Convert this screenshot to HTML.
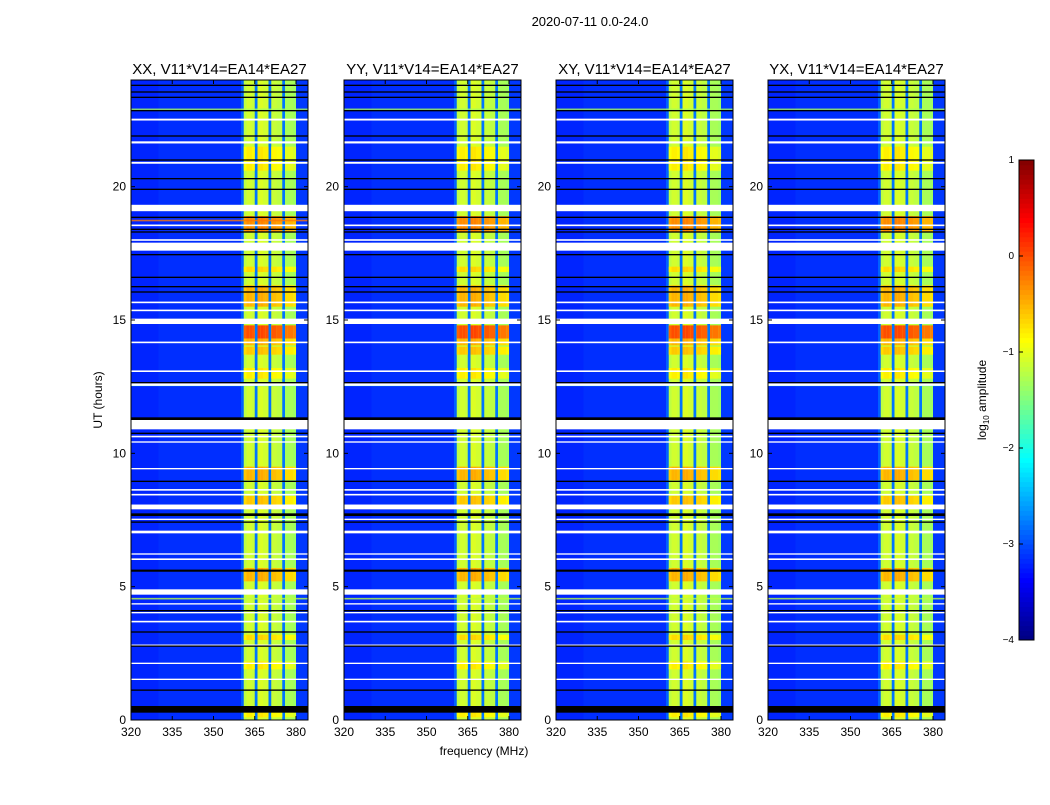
<!DOCTYPE html>
<html><head><meta charset="utf-8"><style>
body{margin:0;background:#fff;}
svg text{font-family:"Liberation Sans",sans-serif;}
</style></head><body>
<svg id="fig" width="1050" height="800" xmlns="http://www.w3.org/2000/svg">
<rect width="1050" height="800" fill="#fff"/>
<text x="590" y="26" font-size="13" text-anchor="middle">2020-07-11 0.0-24.0</text>
<text x="484" y="755" font-size="12" text-anchor="middle">frequency (MHz)</text>
<text x="102" y="400" font-size="12" text-anchor="middle" transform="rotate(-90 102 400)">UT (hours)</text>
<text x="986" y="400" font-size="12" text-anchor="middle" transform="rotate(-90 986 400)">log<tspan font-size="8" dy="3">10</tspan><tspan dy="-3"> amplitude</tspan></text>
</svg>
<script>
const panelTitles = ["XX, V11*V14=EA14*EA27","YY, V11*V14=EA14*EA27","XY, V11*V14=EA14*EA27","YX, V11*V14=EA14*EA27"];
const xTicks = [320,335,350,365,380];
const yTicks = [0,5,10,15,20];
const cbTicks = [1,0,-1,-2,-3,-4];
const cbLabels = ["1","0","\u22121","\u22122","\u22123","\u22124"];
// per-1MHz column levels (log10 amplitude), bins starting at 320
const colLevels = [
-3.2,-3.2,-3.2,-3.2,-3.2,-3.2,-3.2,-3.2,-3.2,-3.2,
-3.15,-3.15,-3.15,-3.15,-3.15,-3.15,-3.15,-3.15,-3.15,-3.15,
-3.15,-3.15,-3.15,-3.15,-3.15,-3.15,-3.15,-3.15,-3.15,-3.15,
-3.15,-3.15,-3.15,-3.15,-3.15,-3.15,-3.15,-3.15,-3.15,-3.15,
-2.9,-1.2,-1.1,-1.1,-1.15,-2.8,-1.05,-1.05,-1.1,-1.1,
-2.8,-1.15,-1.15,-1.2,-1.2,-2.8,-1.3,-1.3,-1.3,-1.35,
-3.1,-3.1,-3.1,-3.1,-3.1];
// [startHour, endHour, boost] applied to band columns
const hotBands = [[14.3,14.8,1.1],[14.05,14.3,0.6],[13.7,14.0,0.5],[15.5,16.3,0.6],[16.8,17.0,0.4],[18.3,18.9,0.8],[20.6,21.5,0.3],[12.8,13.2,0.3],[9.0,9.5,0.6],[8.0,8.4,0.5],[5.2,5.7,0.6],[3.0,3.2,0.4],[1.9,2.2,0.3],[0.1,0.3,0.3]];
// full-width line events [hour, level]
const lineEvents = [[18.73,-0.2],[22.9,-1.3],[4.55,-1.2],[12.55,-2.0]];
// flagged (white) intervals [start,end]
const whiteGaps = [[22.48,22.55],[21.62,21.7],[20.86,20.93],[19.08,19.32],[18.52,18.58],[17.97,18.03],[17.6,17.9],[15.63,15.69],[15.33,15.39],[14.85,15.05],[14.13,14.19],[13.05,13.11],[12.53,12.63],[10.9,11.28],[10.6,10.66],[10.4,10.45],[9.4,9.45],[8.6,8.66],[8.42,8.48],[7.9,8.08],[7.5,7.55],[7.0,7.1],[6.2,6.25],[6.0,6.06],[4.7,4.9],[4.33,4.38],[4.0,4.05],[3.66,3.72],[2.78,2.83],[2.1,2.15],[1.5,1.55]];
// black lines [hour, thicknessHours]
const blackLines = [[23.8,0.05],[23.55,0.05],[23.35,0.05],[22.85,0.05],[21.9,0.05],[21.0,0.05],[20.3,0.05],[19.9,0.05],[18.85,0.05],[18.4,0.05],[18.3,0.05],[17.45,0.05],[16.6,0.05],[16.25,0.05],[16.05,0.05],[12.65,0.05],[11.3,0.1],[10.75,0.05],[8.95,0.05],[7.7,0.1],[7.42,0.05],[5.6,0.08],[4.1,0.05],[3.3,0.05],[2.77,0.05],[1.12,0.05],[0.4,0.25]];

const NS="http://www.w3.org/2000/svg";
const svg=document.getElementById('fig');
const panelX=[131,344,556,768], PW=177, PT=80, PB=720;
const FMIN=320, FMAX=320+PW/2.75;
function jet(v){let t=(v+4)/5;t=Math.max(0,Math.min(1,t));
 const c=x=>Math.round(255*Math.max(0,Math.min(1,1.5-Math.abs(x))));
 return `rgb(${c(4*t-3)},${c(4*t-2)},${c(4*t-1)})`;}
function mk(tag,attrs,parent){const e=document.createElementNS(NS,tag);for(const k in attrs)e.setAttribute(k,attrs[k]);(parent||svg).appendChild(e);return e;}
panelX.forEach((x0,p)=>{
 const xs=f=>x0+(f-FMIN)*2.75, ys=h=>PB-h*(PB-PT)/24;
 const g=mk('g',{});
 
 
 colLevels.forEach((lv,i)=>{
  const f0=FMIN+i, f1=Math.min(FMIN+i+1,FMAX); if(f0>=FMAX)return;
  const r=mk('rect',{x:xs(f0),y:PT,width:xs(f1)-xs(f0)+0.3,height:PB-PT,fill:jet(lv)},g);
  
  
 });
 hotBands.forEach(b=>{
  colLevels.forEach((lv,i)=>{
   if(lv<-2)return;
   const r=mk('rect',{x:xs(FMIN+i),y:ys(b[1]),width:2.8,height:ys(b[0])-ys(b[1]),fill:jet(Math.min(1,lv+b[2]))},g);
   
   
  });
 });
 lineEvents.forEach(l=>{
  if(l[0]>18&&l[0]<19&&p!==0)return;
  const r=mk('rect',{x:x0,y:ys(l[0])-0.8,width:PW,height:1.6,fill:jet(l[1]),opacity:0.8},g);
  
  
 });
 whiteGaps.forEach(w=>{
  const r=mk('rect',{x:x0,y:ys(w[1]),width:PW,height:Math.max(1.2,ys(w[0])-ys(w[1])),fill:'#fff'},g);
  
  
 });
 blackLines.forEach(b=>{
  const r=mk('rect',{x:x0,y:ys(b[0]+b[1]/2),width:PW,height:Math.max(1,b[1]*26.67),fill:'#000'},g);
  
  
 });
 const fr=mk('rect',{x:x0,y:PT,width:PW,height:PB-PT,fill:'none',stroke:'#000','stroke-width':1});
 
 
 const t=mk('text',{x:x0+PW/2,y:74,'font-size':15,'text-anchor':'middle'});
 t.textContent=panelTitles[p];
 
 
 xTicks.forEach(f=>{
  mk('line',{x1:xs(f),x2:xs(f),y1:PB,y2:PB-4,stroke:'#000'});
  mk('line',{x1:xs(f),x2:xs(f),y1:PT,y2:PT+4,stroke:'#000'});
  const tx=mk('text',{x:xs(f),y:PB+16,'font-size':12,'text-anchor':'middle'});
  tx.textContent=f;
  
  
 });
 yTicks.forEach(h=>{
  mk('line',{x1:x0,x2:x0+4,y1:ys(h),y2:ys(h),stroke:'#000'});
  mk('line',{x1:x0+PW,x2:x0+PW-4,y1:ys(h),y2:ys(h),stroke:'#000'});
  const ty=mk('text',{x:x0-5,y:ys(h)+4,'font-size':12,'text-anchor':'end'});
  ty.textContent=h;
  
  
 });
});
// colorbar
const CBX=1019,CBW=15,CBT=160,CBB=640;
const cy=v=>CBB-(v+4)/5*(CBB-CBT);
for(let i=0;i<100;i++){
 const v0=-4+i*0.05;
 const r=mk('rect',{x:CBX,y:cy(v0+0.05),width:CBW,height:(CBB-CBT)/100+0.5,fill:jet(v0+0.025)});
 
 
}
const cbf=mk('rect',{x:CBX,y:CBT,width:CBW,height:CBB-CBT,fill:'none',stroke:'#000'});


cbTicks.forEach((v,i)=>{
 mk('line',{x1:CBX,x2:CBX+4,y1:cy(v),y2:cy(v),stroke:'#000'});
 const t=mk('text',{x:CBX-5,y:cy(v)+3,'font-size':10,'text-anchor':'end'});
 t.textContent=cbLabels[i];
 
 
});
</script>
</body></html>
